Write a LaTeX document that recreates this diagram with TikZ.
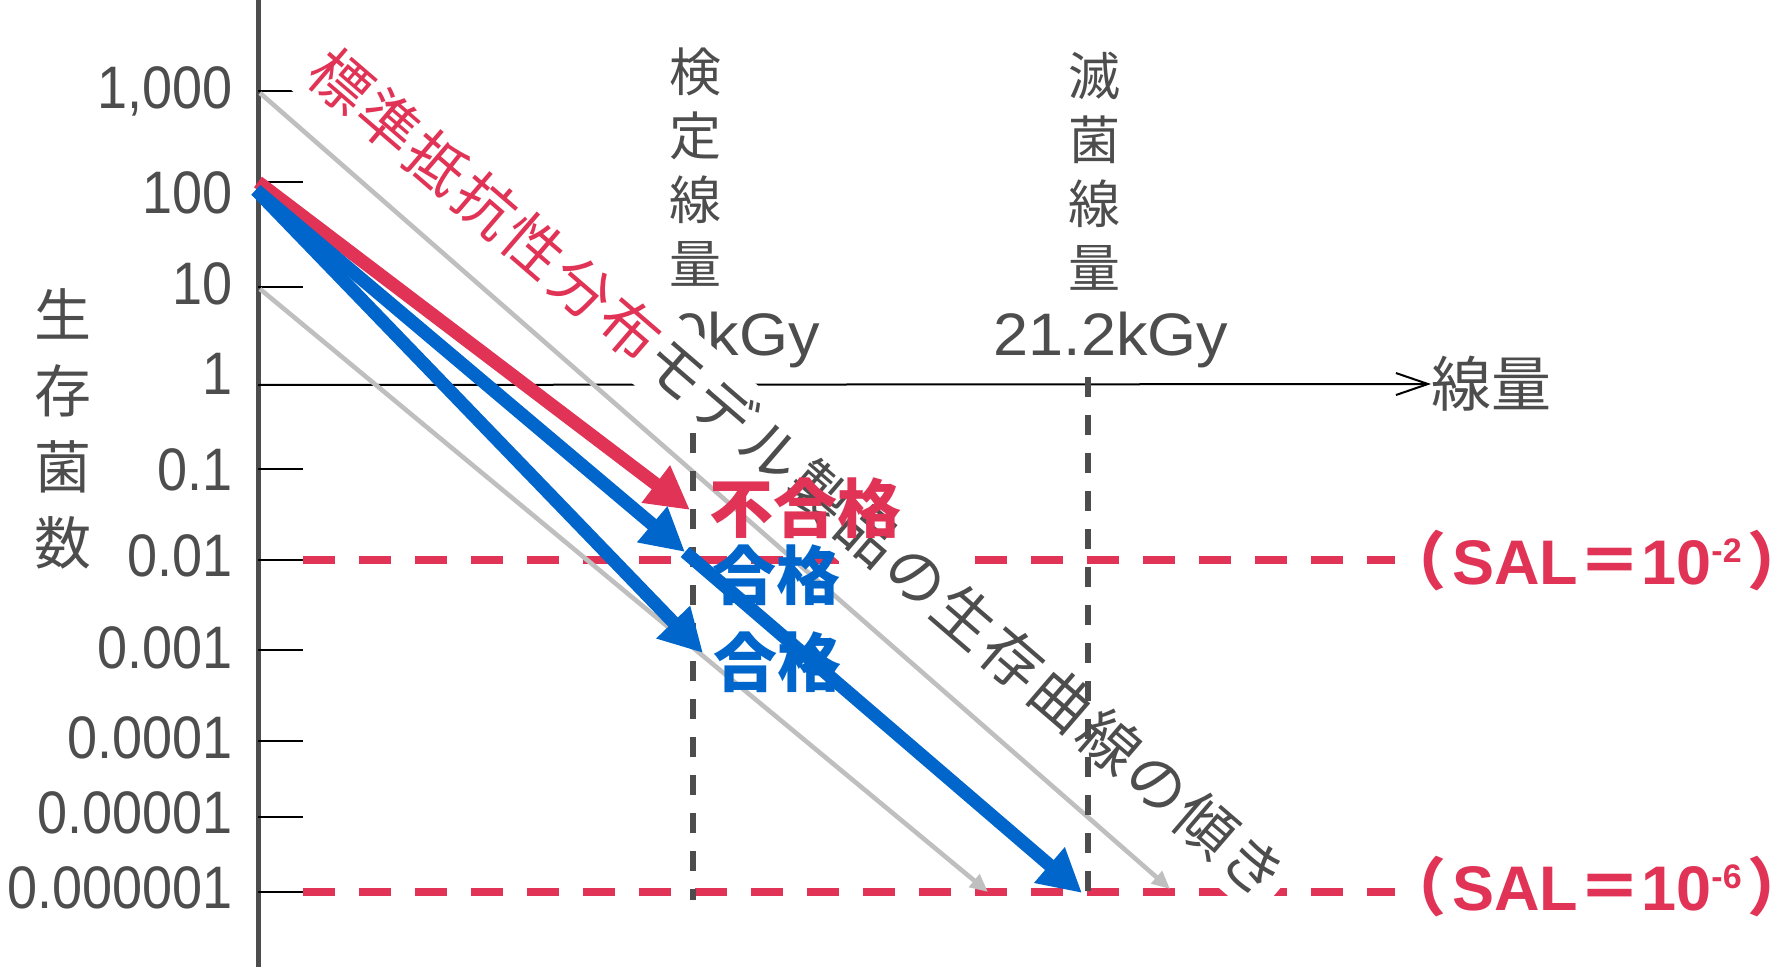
\documentclass[tikz,border=0pt]{standalone}
\usepackage{fontspec}
\setmainfont{Liberation Sans}
\newfontfamily\jp{Noto Sans CJK JP}
\newfontfamily\jpsp[LetterSpace=6]{Noto Sans CJK JP}
\newfontfamily\num[FakeStretch=0.9]{Liberation Sans}
\newfontfamily\dose[FakeStretch=1.05]{Liberation Sans}
\usetikzlibrary{arrows.meta}
\definecolor{salred}{HTML}{E03355}
\definecolor{okblue}{HTML}{0066CC}
\definecolor{txtgray}{HTML}{4D4D4D}
\definecolor{linegray}{HTML}{BFBFBF}
\begin{document}
\begin{tikzpicture}[x=0.5pt,y=-0.5pt,
  lab/.style={text=txtgray, inner sep=0pt},
  ticklab/.style={lab, anchor=base east, font=\num\fontsize{30}{36}\selectfont},
  vlab/.style={lab, align=center, font=\jp\fontsize{26}{32}\selectfont},
  sal/.style={text=salred, inner sep=0pt, anchor=base, font=\bfseries\fontsize{31.5}{36}\selectfont},
  saldash/.style={salred, line width=4pt, dash pattern=on 16pt off 12pt},
  dosedash/.style={txtgray, line width=2.6pt, dash pattern=on 10pt off 9pt},
  model/.style={linegray, line width=2.3pt, -{Triangle[length=9pt,width=8pt]}},
  curve/.style={line width=6.6pt, -{Triangle[length=21.5pt,width=22pt]}},
  verdict/.style={inner sep=0pt, font=\jp\bfseries\fontsize{32}{36}\selectfont}]
\useasboundingbox (0,0) rectangle (1787,973);

\draw[txtgray, line width=2.5pt] (258,0) -- (258,967);
\node[lab, anchor=west, font=\jp\fontsize{30}{36}\selectfont] (xlab) at (1431,384) {線量};
\coordinate (o) at (258,385);
\draw[line width=1pt, -{Straight Barb[length=16pt,width=11pt]}] (o) -- (xlab.west);

\foreach \ty/\ly/\v [count=\i] in {91/87/{1,000}, 182/192/100, 287/283/10, 385/373/1,
    469/469/0.1, 560/555/0.01, 650/647/0.001, 741/737/0.0001, 817/812/0.00001, 892/887/0.000001}{
  \draw[line width=1pt] (258,\ty) -- (303,\ty);
  \node[ticklab] (t\i) at (233,\ly+21.5) {\v};
}
\node[lab, align=center, font=\jp\fontsize{28.5}{38}\selectfont] (ylab) at (63,429) {生\\存\\菌\\数};

\node[vlab] (vd) at (695,167.5) {検\\定\\線\\量};
\node[vlab] (sd) at (1094,171) {滅\\菌\\線\\量};
\node[lab, anchor=base east, font=\dose\fontsize{30}{36}\selectfont] (vdk) at (820,355) {8.0kGy};
\node[lab, anchor=base, font=\dose\fontsize{30}{36}\selectfont] (sdk) at (1111,355) {21.2kGy};

\coordinate (d2a) at (303,560);
\coordinate (d2b) at (1395,560);
\coordinate (d6a) at (303,892);
\coordinate (d6b) at (1395,892);
\draw[saldash] (d2a) -- (d2b);
\draw[saldash] (d6a) -- (d6b);
\node[sal] (sal2) at (1597,584) {{\jp （}\kern3pt SAL{\jp ＝}10\raisebox{11pt}{\fontsize{17}{17}\selectfont -2}\kern3pt{\jp ）}};
\node[sal] (sal6) at (1597,910) {{\jp （}\kern3pt SAL{\jp ＝}10\raisebox{11pt}{\fontsize{17}{17}\selectfont -6}\kern3pt{\jp ）}};

\coordinate (g1s) at (260,93);
\coordinate (g1e) at (1170,889);
\coordinate (g2s) at (260,289);
\coordinate (g2e) at (988,892);
\draw[model] (g1s) -- (g1e);
\draw[model] (g2s) -- (g2e);

\node[fill=white, inner xsep=2pt, inner ysep=6pt, rotate=-40.7, text=txtgray,
  font=\jpsp\fontsize{30}{33}\selectfont] (slope) at (798,473)
  {\textcolor{salred}{標準抵抗性分布}モデル製品の生存曲線の傾き};

\coordinate (vd0) at (693,433);
\coordinate (vd1) at (693,900);
\coordinate (sd0) at (1088,377);
\coordinate (sd1) at (1088,893);
\draw[dosedash] (vd0) -- (vd1);
\draw[dosedash] (sd0) -- (sd1);

\coordinate (r0) at (258,182);
\coordinate (r1) at (690,510);
\coordinate (b0) at (256,190);
\coordinate (b1) at (685,552);
\coordinate (b2) at (1082,893);
\coordinate (b3) at (703,653);
\draw[curve, salred] (r0) -- (r1);
\draw[curve, okblue] (b0) -- (b1);
\draw[curve, okblue] (b1) -- (b2);
\draw[curve, okblue] (b0) -- (b3);

\node[verdict, text=salred] (ng) at (805,508) {不合格};
\node[verdict, text=okblue] (ok1) at (776,575) {合格};
\node[verdict, text=okblue] (ok2) at (777,662) {合格};
\end{tikzpicture}
\end{document}
